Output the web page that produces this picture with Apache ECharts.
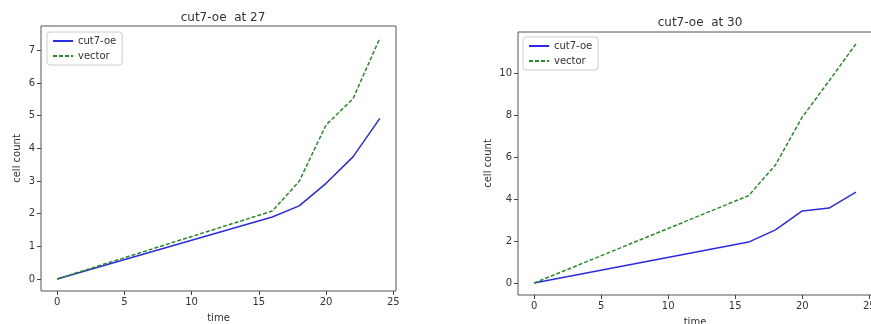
<!DOCTYPE html>
<html>
<head>
<meta charset="utf-8">
<script src="https://cdn.jsdelivr.net/npm/echarts@6/dist/echarts.min.js"></script>
<style>
  html, body { margin: 0; padding: 0; background: #fff; }
  #main { width: 871px; height: 324px; }
</style>
</head>
<body>
<div id="main"></div>
<script>
// time points (hours)
var times = [0, 16, 18, 20, 22, 24]
// left panel: at 27
var cut7oe27 = [0, 1.9, 2.24, 2.93, 3.74, 4.92]
var vector27 = [0, 2.08, 2.99, 4.72, 5.52, 7.38]
// right panel: at 30
var cut7oe30 = [0, 1.95, 2.53, 3.43, 3.57, 4.33]
var vector30 = [0, 4.16, 5.62, 7.9, 9.62, 11.38]

var titles = ['cut7-oe  at 27', 'cut7-oe  at 30']
var xTicks = [0, 5, 10, 15, 20, 25]
var yTicks27 = [0, 1, 2, 3, 4, 5, 6, 7]
var yTicks30 = [0, 2, 4, 6, 8, 10]

var textColor = '#333'
var font = 'DejaVu Sans'

function pairs(xs, ys) {
  return xs.map(function (x, i) { return [x, ys[i]] })
}

// matplotlib-like 5% margins
function pad(lo, hi) {
  var m = (hi - lo) * 0.05
  return [lo - m, hi + m]
}

var xr = pad(0, 24)
var yr27 = pad(0, Math.max.apply(null, vector27))
var yr30 = pad(0, Math.max.apply(null, vector30))

function xAxis(idx, ticks) {
  return {
    type: 'value',
    gridIndex: idx,
    min: xr[0],
    max: xr[1],
    name: 'time',
    nameLocation: 'middle',
    nameGap: 22,
    nameTextStyle: { color: textColor, fontSize: 10, fontFamily: font },
    axisLine: { show: false, onZero: false },
    splitLine: { show: false },
    axisTick: { show: true, customValues: ticks, length: 4, lineStyle: { color: '#444' } },
    axisLabel: { customValues: ticks, color: textColor, fontSize: 10, fontFamily: font, margin: 6 }
  }
}

function yAxis(idx, range, ticks, gap) {
  return {
    type: 'value',
    gridIndex: idx,
    min: range[0],
    max: range[1],
    name: 'cell count',
    nameLocation: 'middle',
    nameGap: gap,
    nameRotate: 90,
    nameTextStyle: { color: textColor, fontSize: 10, fontFamily: font },
    axisLine: { show: false, onZero: false },
    splitLine: { show: false },
    axisTick: { show: true, customValues: ticks, length: 4, lineStyle: { color: '#444' } },
    axisLabel: { customValues: ticks, color: textColor, fontSize: 10, fontFamily: font, margin: 6 }
  }
}

function legend(left, top) {
  return {
    left: left,
    top: top,
    orient: 'vertical',
    itemWidth: 20,
    itemHeight: 10,
    itemGap: 5,
    padding: [4, 6, 4, 5],
    borderColor: '#ccc',
    borderWidth: 1,
    borderRadius: 3,
    backgroundColor: '#fff',
    itemStyle: { opacity: 0 },
    textStyle: { color: textColor, fontSize: 10, fontFamily: font },
    data: ['cut7-oe', 'vector']
  }
}

function lineSeries(name, idx, data, color, dashed) {
  return {
    name: name,
    type: 'line',
    xAxisIndex: idx,
    yAxisIndex: idx,
    data: data,
    symbol: 'none',
    animation: false,
    lineStyle: { color: color, width: 1.5, type: dashed ? [4, 2] : 'solid' },
    itemStyle: { color: color }
  }
}

var blue = '#2b2be6'
var green = '#2a8a2a'

var chart = echarts.init(document.getElementById('main'), null, { renderer: 'canvas' })
chart.setOption({
  backgroundColor: '#fff',
  animation: false,
  title: [
    { text: titles[0], left: 218, top: 7, textAlign: 'center',
      textStyle: { color: textColor, fontSize: 12, fontWeight: 'normal', fontFamily: font } },
    { text: titles[1], left: 695, top: 12, textAlign: 'center',
      textStyle: { color: textColor, fontSize: 12, fontWeight: 'normal', fontFamily: font } }
  ],
  legend: [legend(47, 32), legend(523, 37)],
  grid: [
    { left: 41, top: 26, width: 355, height: 265, show: true, borderColor: '#555', borderWidth: 1,
      outerBoundsMode: 'none' },
    { left: 518, top: 32, width: 354, height: 263, show: true, borderColor: '#555', borderWidth: 1,
      outerBoundsMode: 'none' }
  ],
  xAxis: [xAxis(0, xTicks), xAxis(1, xTicks)],
  yAxis: [yAxis(0, yr27, yTicks27, 19), yAxis(1, yr30, yTicks30, 25)],
  series: [
    lineSeries('cut7-oe', 0, pairs(times, cut7oe27), blue, false),
    lineSeries('vector', 0, pairs(times, vector27), green, true),
    lineSeries('cut7-oe', 1, pairs(times, cut7oe30), blue, false),
    lineSeries('vector', 1, pairs(times, vector30), green, true)
  ]
})
</script>
</body>
</html>
